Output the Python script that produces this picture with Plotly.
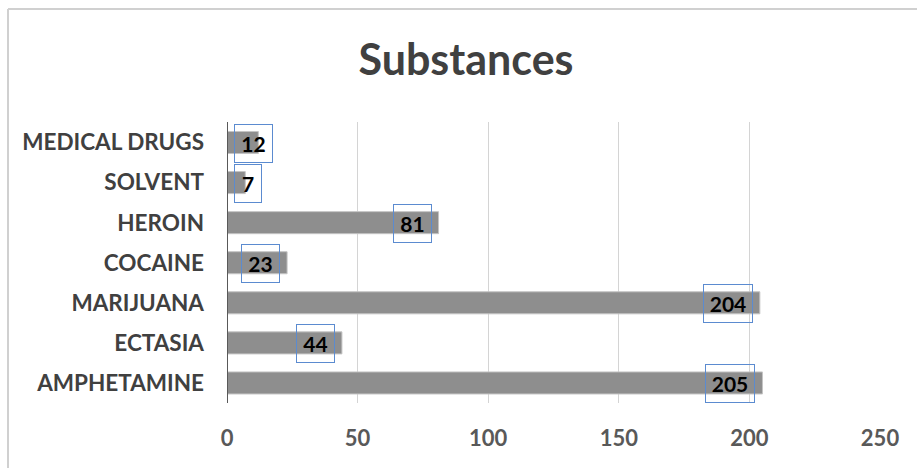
import plotly.graph_objects as go

# Counts per substance (top to bottom as listed)
substances = ["MEDICAL DRUGS", "SOLVENT", "HEROIN", "COCAINE", "MARIJUANA", "ECTASIA", "AMPHETAMINE"]
counts = [12, 7, 81, 23, 204, 44, 205]
x_ticks = [0, 50, 100, 150, 200, 250]

W, H = 917, 468
ML, MR, MT, MB = 227, 37, 122, 65
XMAX = 250
pw = W - ML - MR
ph = H - MT - MB
px_per_unit = pw / XMAX

FONT = "Lato"

fig = go.Figure()
fig.add_trace(go.Bar(
    y=substances,
    x=counts,
    orientation="h",
    marker=dict(color="#8e8e8e", line=dict(color="#c4c4c4", width=1)),
    hoverinfo="x+y",
))

# Boxed value labels placed near the inner end of each bar
annotations = []
for name, v in zip(substances, counts):
    label = str(v)
    box_w = 17 + 11 * len(label)
    bar_end = v * px_per_unit
    left = max(7, bar_end - 7 - box_w)
    annotations.append(dict(
        x=0, y=name, xref="x", yref="y",
        text=label,
        showarrow=False,
        xanchor="left",
        xshift=left,
        yshift=-1,
        width=box_w - 2, height=37,
        align="center",
        bordercolor="#5b8bd0", borderwidth=1, borderpad=0,
        font=dict(family=FONT, size=21, color="#000000", weight="bold"),
    ))

# Outer chart frame (top and left edges)
fx0 = (8 - ML) / pw
fy_top = (H - MB - 9) / ph
shapes = [
    dict(type="line", xref="paper", yref="paper", x0=fx0, x1=(W - ML) / pw,
         y0=fy_top, y1=fy_top, line=dict(color="#d0d0d0", width=2)),
    dict(type="line", xref="paper", yref="paper", x0=fx0, x1=fx0,
         y0=fy_top, y1=-MB / ph, line=dict(color="#d0d0d0", width=2)),
    # value axis baseline at zero
    dict(type="line", xref="x", yref="paper", x0=0, x1=0, y0=0, y1=1,
         line=dict(color="#595959", width=2)),
]

fig.update_layout(
    width=W, height=H,
    margin=dict(l=ML, r=MR, t=MT, b=MB),
    paper_bgcolor="white",
    plot_bgcolor="white",
    showlegend=False,
    bargap=0.45,
    title=dict(text="Substances", x=466 / W, xref="container", xanchor="center",
               y=(H - 60) / H, yref="container", yanchor="middle",
               font=dict(family=FONT, size=43, color="#404040", weight="bold")),
    xaxis=dict(
        range=[0, XMAX], tickvals=x_ticks, ticktext=[str(t) for t in x_ticks],
        showgrid=True, gridcolor="#d4d4d4", gridwidth=1,
        zeroline=False, showline=False, ticks="",
        tickfont=dict(family=FONT, size=22, color="#595959", weight="bold"),
        ticklabelstandoff=20,
        fixedrange=True,
    ),
    yaxis=dict(
        categoryorder="array", categoryarray=substances, autorange="reversed",
        showgrid=False, zeroline=False, ticks="",
        showline=False,
        tickfont=dict(family=FONT, size=22.5, color="#404040", weight="bold"),
        ticklabelstandoff=22,
        fixedrange=True,
    ),
    annotations=annotations,
    shapes=shapes,
)

fig.write_html("out.html")
